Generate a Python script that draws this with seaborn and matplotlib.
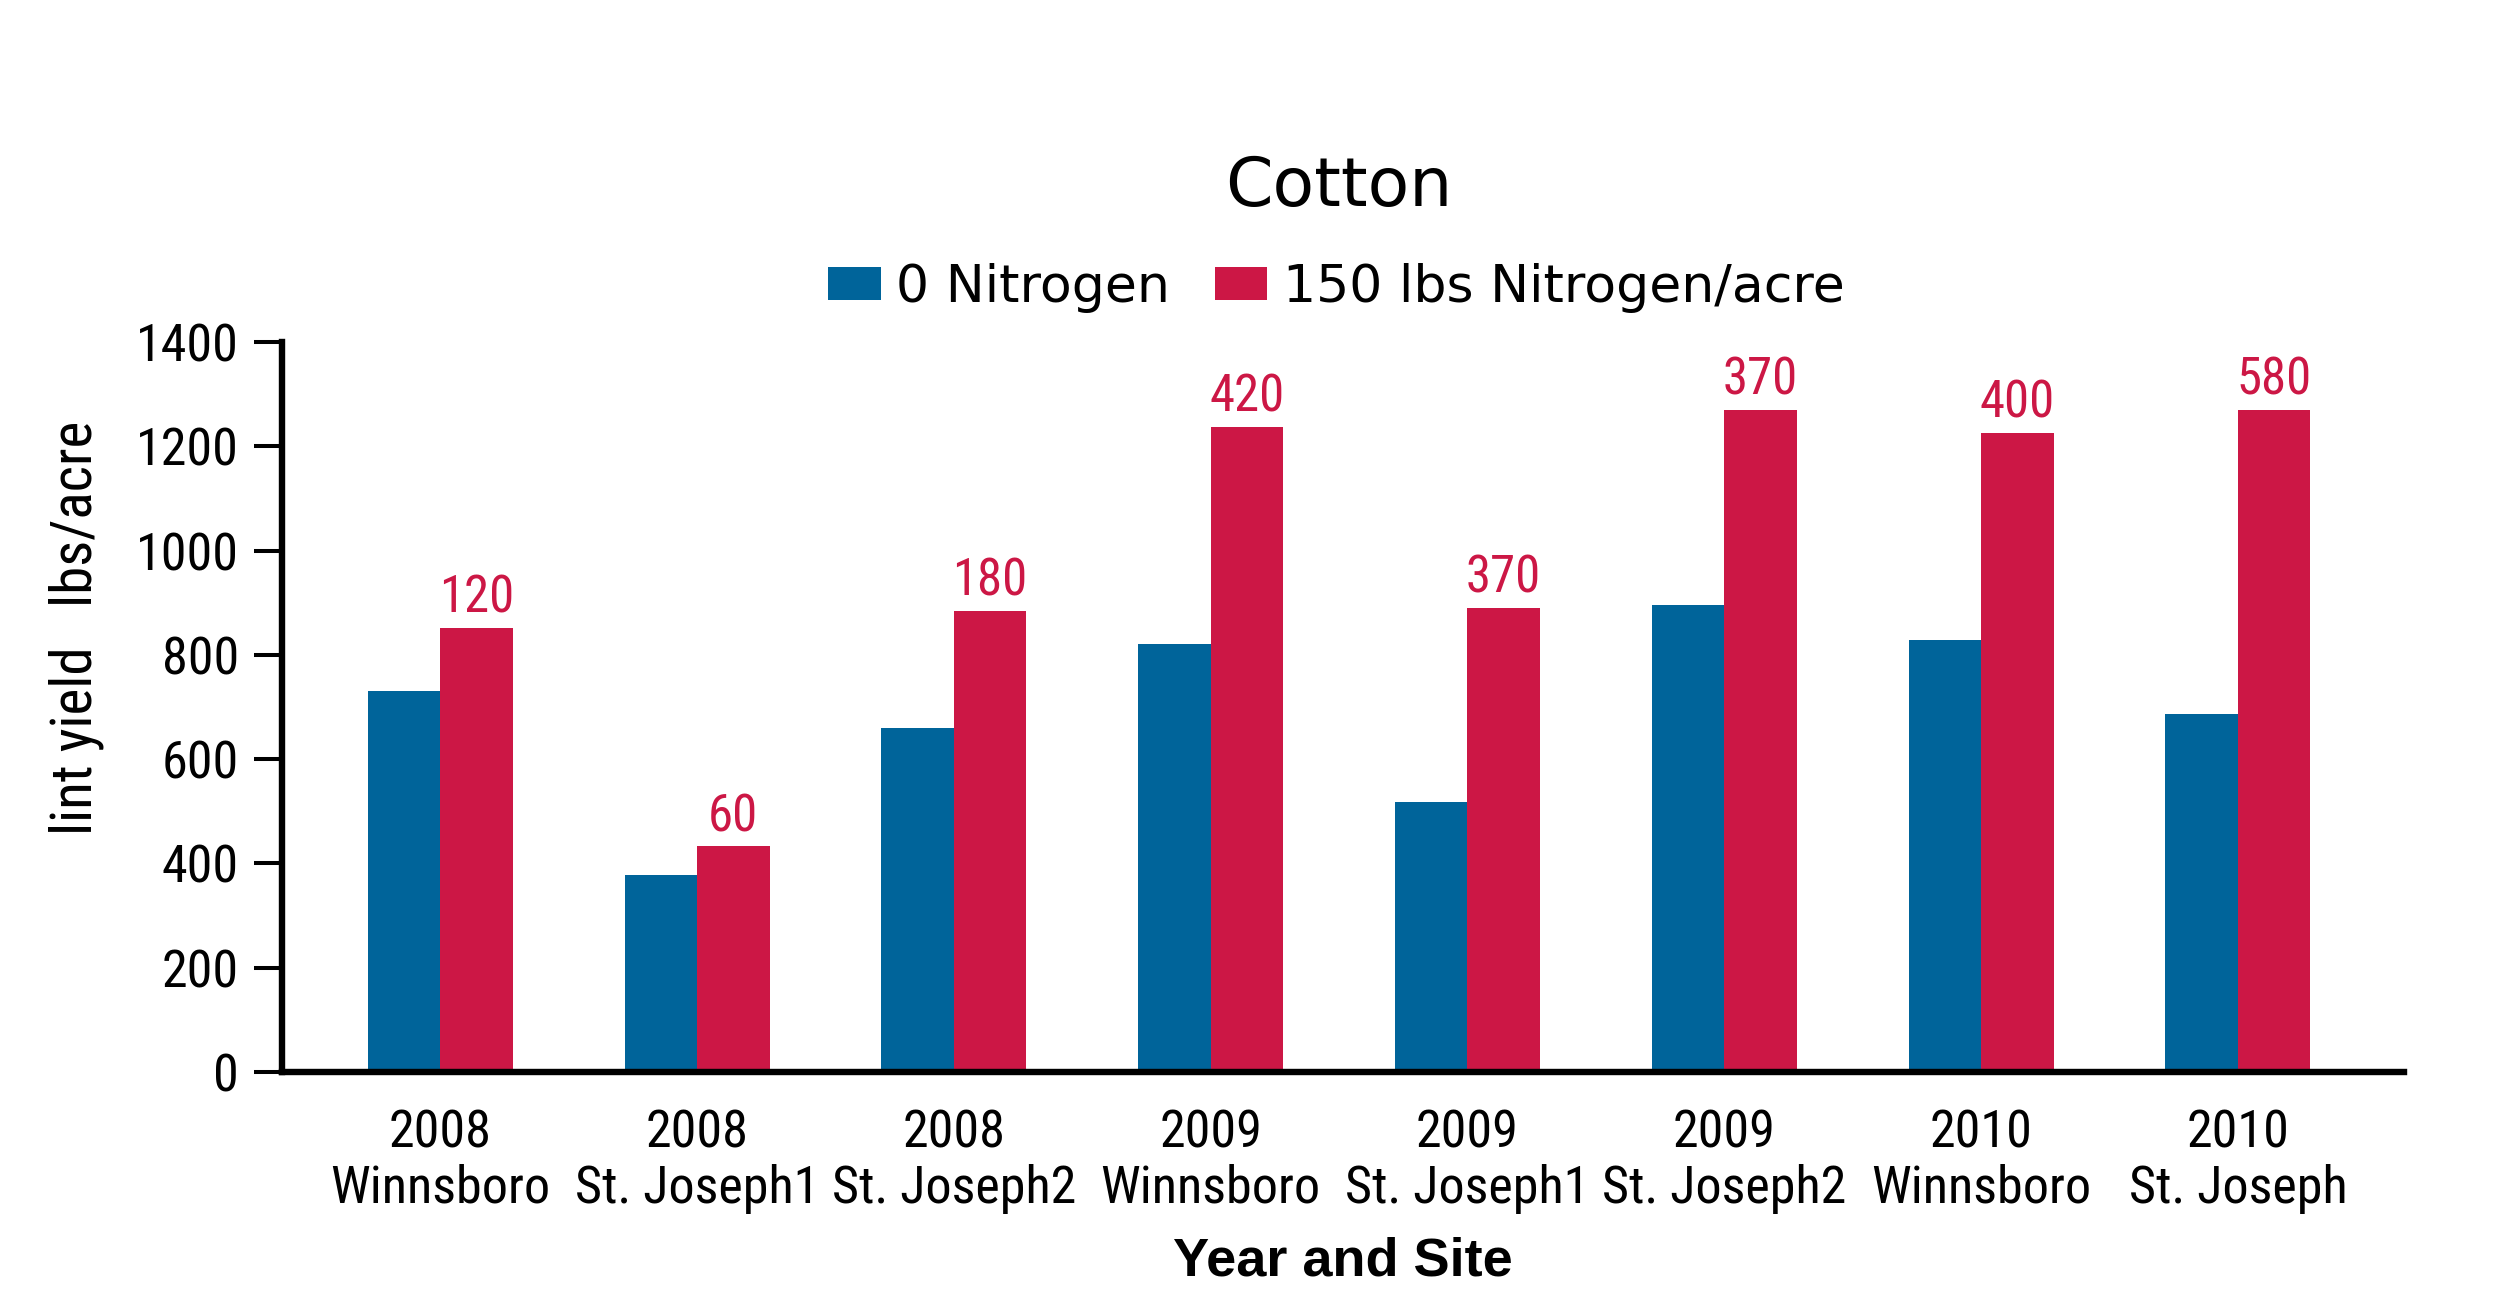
import pandas as pd
import matplotlib.pyplot as plt
import seaborn as sns
from matplotlib import font_manager as fm

# ---- data ----
YEARS = ["2008", "2008", "2008", "2009", "2009", "2009", "2010", "2010"]
SITES = ["Winnsboro", "St. Joseph1", "St. Joseph2", "Winnsboro",
         "St. Joseph1", "St. Joseph2", "Winnsboro", "St. Joseph"]
NO_N = [730, 378, 660, 820, 517, 895, 828, 687]
WITH_N = [852, 433, 885, 1237, 890, 1270, 1226, 1270]
GAIN_LABELS = ["120", "60", "180", "420", "370", "370", "400", "580"]
SERIES = ["0 Nitrogen", "150 lbs Nitrogen/acre"]

BLUE = "#00649A"
RED = "#CC1745"


def find_narrow_font():
    # the original uses a condensed face; take whatever condensed regular is installed
    wanted = ["liberationsansnarrow-regular", "robotocondensed-regular",
              "opensanscondensed", "notosans-condensed.", "notosanscondensed-regular",
              "dejavusanscondensed."]
    files = [f.fname for f in fm.fontManager.ttflist]
    for key in wanted:
        for path in files:
            if key in path.lower().replace(" ", ""):
                return path, 1.0
    for f in fm.fontManager.ttflist:
        if str(f.stretch) in ("condensed", "semi-condensed") and f.style == "normal" \
                and f.weight in (400, "normal", "regular"):
            return f.fname, 0.95
    return None, 0.8


NARROW_PATH, SIZE_K = find_narrow_font()


def narrow(size):
    if NARROW_PATH:
        return fm.FontProperties(fname=NARROW_PATH, size=size * SIZE_K)
    return fm.FontProperties(family="DejaVu Sans", size=size * SIZE_K)


sns.set_theme(style="ticks")
plt.rcParams["font.family"] = ["DejaVu Sans"]
plt.rcParams["text.color"] = "black"
plt.rcParams["axes.labelcolor"] = "black"

cats = [f"{y}\n{s}" for y, s in zip(YEARS, SITES)]
df = pd.DataFrame({
    "site": cats * 2,
    "yield": NO_N + WITH_N,
    "treatment": [SERIES[0]] * len(cats) + [SERIES[1]] * len(cats),
})

fig = plt.figure(figsize=(25.12, 13.06), dpi=100)
ax = fig.add_axes([0.1123, 0.1792, 0.8447, 0.5589])

sns.barplot(data=df, x="site", y="yield", hue="treatment", order=cats,
            hue_order=SERIES, palette=[BLUE, RED], saturation=1,
            width=0.565, linewidth=0, ax=ax)

# red numbers above the fertilised bars
ax.bar_label(ax.containers[1], labels=GAIN_LABELS, padding=3,
             color=RED, fontproperties=narrow(36.5))

ax.set_ylim(0, 1400)
ax.set_yticks(range(0, 1401, 200))
ax.set_xlim(-0.616, 7.647)

sns.despine(ax=ax)
for side in ["left", "bottom"]:
    ax.spines[side].set_linewidth(4.6)
    ax.spines[side].set_color("black")

ax.tick_params(axis="y", length=20, width=2.9, pad=11, colors="black")
ax.tick_params(axis="x", length=0, pad=26, colors="black")
for lbl in ax.get_yticklabels():
    lbl.set_fontproperties(narrow(37.5))
for lbl in ax.get_xticklabels():
    lbl.set_fontproperties(narrow(37.5))
    lbl.set_linespacing(1.15)

ax.set_xlabel("Year and Site", fontsize=39, fontweight="bold",
              family=["Liberation Sans", "DejaVu Sans"], labelpad=16)
ax.set_ylabel("lint yield   lbs/acre", fontproperties=narrow(41), va="center")
ax.yaxis.set_label_coords(-0.097, 0.609)

# legend across the top
handles, labels = ax.get_legend_handles_labels()
ax.legend(handles, labels, ncol=2, frameon=False, loc="center",
          bbox_to_anchor=(0.532, 0.7795), bbox_transform=fig.transFigure,
          prop={"family": "DejaVu Sans", "size": 37.5},
          handlelength=1.0, handleheight=0.6, handletextpad=0.29,
          columnspacing=0.88, borderpad=0)

fig.suptitle("Cotton", x=0.533, y=0.8423, va="baseline", fontsize=49,
             family="DejaVu Sans", color="black")

fig.savefig("out.png", dpi=100)
